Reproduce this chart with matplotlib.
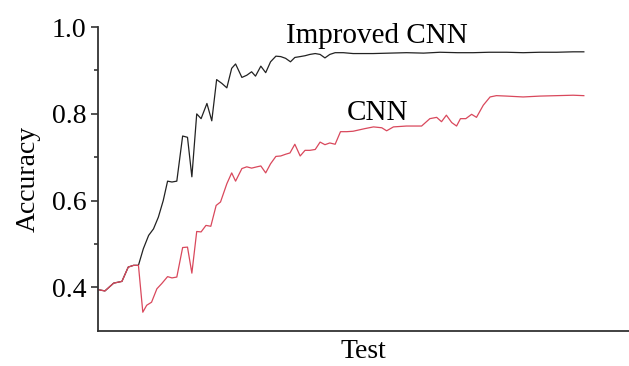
import numpy as np
import matplotlib
matplotlib.use('Agg')
import matplotlib.pyplot as plt

plt.rcParams['font.family'] = ['Liberation Serif', 'DejaVu Serif']

# test steps and accuracy
improved_steps = [0, 1.4, 3.2, 4.9, 6.2, 7.3, 8.3, 9.3, 10.4, 11.4, 12.4, 13.4, 14.3, 15.2,
                  16.2, 17.4, 18.4, 19.3, 20.3, 21.2, 22.4, 23.4, 24.4, 25.5, 26.5, 27.5,
                  28.3, 29.6, 30.6, 31.6, 32.4, 33.5, 34.5, 35.5, 36.6, 37.6, 38.6, 39.6,
                  40.5, 41.6, 42.6, 43.6, 44.7, 45.7, 46.7, 47.7, 48.8, 50.5, 52.5, 56.6,
                  60, 63.5, 67, 70.4, 74, 77.2, 80.5, 84.1, 87.5, 90.9, 94.4, 97.8, 100]
improved_acc = [0.395, 0.392, 0.410, 0.414, 0.447, 0.451, 0.451, 0.489, 0.520, 0.535, 0.562,
                0.600, 0.645, 0.643, 0.645, 0.749, 0.746, 0.655, 0.800, 0.789, 0.824, 0.784,
                0.879, 0.870, 0.860, 0.905, 0.915, 0.884, 0.889, 0.897, 0.887, 0.910, 0.895,
                0.920, 0.933, 0.932, 0.928, 0.920, 0.930, 0.932, 0.934, 0.937, 0.939, 0.937,
                0.929, 0.937, 0.941, 0.941, 0.939, 0.939, 0.940, 0.941, 0.940, 0.942, 0.941,
                0.941, 0.942, 0.942, 0.941, 0.942, 0.942, 0.943, 0.943]

cnn_steps = [0, 1.4, 3.2, 4.9, 6.2, 7.3, 8.3, 9.2, 10.0, 11.0, 12.1, 13.1, 14.3, 15.2, 16.2,
             17.4, 18.4, 19.3, 20.3, 21.2, 22.2, 23.2, 24.3, 25.2, 26.5, 27.5, 28.3, 29.6,
             30.6, 31.6, 32.7, 33.5, 34.5, 35.5, 36.6, 37.6, 38.6, 39.5, 40.5, 41.6, 42.6,
             43.6, 44.7, 45.7, 46.7, 47.7, 48.8, 49.9, 51.2, 52.5, 54.9, 56.7, 58.4, 59.4,
             60.8, 63.5, 66.6, 68.3, 69.7, 70.7, 71.7, 72.8, 73.8, 74.6, 75.7, 76.9, 77.9,
             79.3, 80.7, 82.0, 84.1, 87.5, 91.0, 94.4, 97.8, 100]
cnn_acc = [0.395, 0.392, 0.410, 0.414, 0.447, 0.451, 0.451, 0.343, 0.359, 0.366, 0.397, 0.409,
           0.425, 0.422, 0.424, 0.492, 0.493, 0.433, 0.529, 0.528, 0.543, 0.541, 0.589, 0.597,
           0.639, 0.664, 0.645, 0.674, 0.678, 0.675, 0.678, 0.680, 0.664, 0.685, 0.702, 0.703,
           0.707, 0.710, 0.730, 0.703, 0.716, 0.716, 0.718, 0.735, 0.729, 0.733, 0.730, 0.759,
           0.759, 0.760, 0.766, 0.770, 0.768, 0.761, 0.770, 0.772, 0.772, 0.789, 0.792, 0.782,
           0.797, 0.780, 0.772, 0.789, 0.789, 0.799, 0.792, 0.820, 0.839, 0.842, 0.841, 0.839,
           0.841, 0.842, 0.843, 0.842]

fig = plt.figure(figsize=(6.29, 3.66), dpi=100)
ax = fig.add_axes([0.156, 0.096, 0.844, 0.830])

ax.plot(improved_steps, improved_acc, color='#222222', lw=0.9)
ax.plot(cnn_steps, cnn_acc, color='#d9485c', lw=0.9)

ax.text(38.7, 0.963, 'Improved CNN', fontsize=21, ha='left', va='baseline')
ax.text(51.2, 0.785, 'CNN', fontsize=21, ha='left', va='baseline')

ax.set_xlim(0, 109.3)
ax.set_ylim(0.3, 1.0)
ax.set_yticks([0.4, 0.6, 0.8, 1.0])
ax.set_yticks([0.5, 0.7, 0.9], minor=True)
ax.set_xticks([])
ax.tick_params(axis='y', which='major', length=5, width=1.2, labelsize=20, color='#333333')
ax.tick_params(axis='y', which='minor', length=3, width=1.2, color='#333333')

for side in ['top', 'right']:
    ax.spines[side].set_visible(False)
for side in ['left', 'bottom']:
    ax.spines[side].set_linewidth(1.3)
    ax.spines[side].set_color('#333333')

ax.set_ylabel('Accuracy', fontsize=20, labelpad=8)
ax.set_xlabel('Test', fontsize=20, labelpad=6)

fig.savefig('out.png', dpi=100)
